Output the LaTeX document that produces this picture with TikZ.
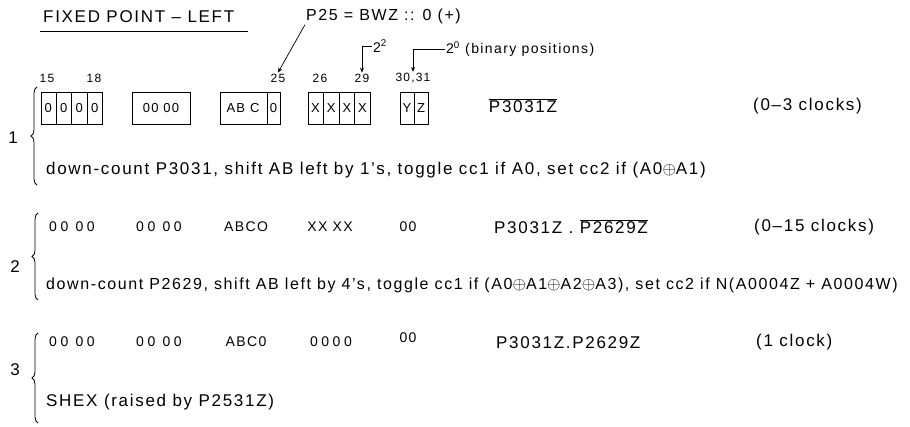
\documentclass[tikz,border=0pt]{standalone}
\usepackage{fontspec}
\setmainfont{Liberation Sans}[LetterSpace=10]
\usetikzlibrary{calc,positioning,decorations.pathreplacing,arrows.meta}

\begin{document}
\begin{tikzpicture}[x=1pt,y=-1pt,
    hand/.style={font=\fontsize{17}{20}\selectfont, inner sep=1pt},
    bitlbl/.style={font=\fontsize{12}{14}\selectfont, inner sep=1pt},
    regbox/.style={draw, line width=0.8pt, minimum height=32pt, inner sep=0pt},
    cell/.style={font=\fontsize{13}{15}\selectfont, inner sep=0pt},
    digits/.style={font=\fontsize{14}{16}\selectfont\addfontfeature{LetterSpace=25}, inner sep=0pt},
    lbrace/.style={decorate, decoration={brace, amplitude=6pt}, line width=0.8pt},
    tip/.style={-{Stealth[length=5pt,width=4pt]}, line width=0.7pt}]
  \useasboundingbox (0,0) rectangle (910,426);

  % Title
  \node[hand, anchor=west] (title) at (42,17) {FIXED POINT -- LEFT};
  \draw[line width=0.8pt] (40,31) -- (248,31);

  % Notes on top
  \node[hand, anchor=west, font=\fontsize{16}{19}\selectfont] (p25) at (305,16) {P25 = BWZ :: 0 (+)};
  \node[hand, anchor=west, font=\fontsize{14}{16}\selectfont] (b22) at (372,46) {2\textsuperscript{2}};
  \node[hand, anchor=west, font=\fontsize{14}{16}\selectfont] (b20) at (445,49) {2\textsuperscript{0} (binary positions)};

  % Bit positions
  \node[bitlbl] (n15) at (47,78) {15};
  \node[bitlbl] (n18) at (94,78) {18};
  \node[bitlbl] (n25) at (278,78) {25};
  \node[bitlbl] (n26) at (320,78) {26};
  \node[bitlbl] (n29) at (362,78) {29};
  \node[bitlbl] (n3031) at (413,78) {30,31};

  \draw[tip] (p25.south west) -- (n25.north);
  \draw[tip] (b22.west) -| (n29.north);
  \draw[tip] (b20.west) -| (n3031.north);

  % Step 1: register boxes
  \node[regbox, minimum width=61pt] (reg1) at (71.5,108) {};
  \foreach \i in {1,2,3}
    \draw[line width=0.8pt] ($(reg1.north west)!\i/4!(reg1.north east)$) -- ($(reg1.south west)!\i/4!(reg1.south east)$);
  \foreach \i in {1,...,4}
    \node[cell] (a\i) at ($(reg1.west)!{(\i-0.5)/4}!(reg1.east)$) {0};

  \node[regbox, minimum width=58pt, cell] (reg2) at (161,108) {00 00};

  \node[regbox, minimum width=60pt] (reg3) at (250,108) {};
  \draw[line width=0.8pt] (267,92) -- (267,124);
  \node[cell] (abc) at (243,108) {AB C};
  \node[cell] (abz) at (273.5,108) {0};

  \node[regbox, minimum width=62pt] (reg4) at (339,108) {};
  \foreach \i in {1,2,3}
    \draw[line width=0.8pt] ($(reg4.north west)!\i/4!(reg4.north east)$) -- ($(reg4.south west)!\i/4!(reg4.south east)$);
  \foreach \i in {1,...,4}
    \node[cell] (x\i) at ($(reg4.west)!{(\i-0.5)/4}!(reg4.east)$) {X};

  \node[regbox, minimum width=28pt] (reg5) at (414,108) {};
  \draw[line width=0.8pt] (reg5.north) -- (reg5.south);
  \node[cell] (yy) at (407,108) {Y};
  \node[cell] (zz) at (421,108) {Z};

  \node[hand] (cond1) at (523,106) {$\overline{\mbox{P3031Z}}$};
  \node[hand, anchor=west] (clk1) at (752,106) {(0--3 clocks)};
  \node[hand, anchor=west] (line1) at (45,170) {down-count P3031, shift AB left by 1's, toggle cc1 if A0, set cc2 if (A0$\oplus$A1)};
  \draw[lbrace] (37,185) -- (37,87);
  \node[hand] (s1) at (13,138) {1};

  % Step 2
  \node[digits] (r2a) at (72,227) {00 00};
  \node[digits] (r2b) at (159,227) {00 00};
  \node[cell, font=\fontsize{14}{16}\selectfont] (r2c) at (246,227) {ABCO};
  \node[cell, font=\fontsize{14}{16}\selectfont] (r2d) at (330,227) {XX XX};
  \node[cell, font=\fontsize{14}{16}\selectfont] (r2e) at (408,227) {00};
  \node[hand, anchor=west] (cond2) at (493,227) {P3031Z . $\overline{\mbox{P2629Z}}$};
  \node[hand, anchor=west] (clk2) at (753,227) {(0--15 clocks)};
  \node[hand, anchor=west, font=\fontsize{16}{19}\selectfont] (line2) at (45,285) {down-count P2629, shift AB left by 4's, toggle cc1 if (A0$\oplus$A1$\oplus$A2$\oplus$A3), set cc2 if N(A0004Z + A0004W)};
  \draw[lbrace] (38,300) -- (38,213);
  \node[hand] (s2) at (15,267) {2};

  % Step 3
  \node[digits] (r3a) at (72,342) {00 00};
  \node[digits] (r3b) at (159,342) {00 00};
  \node[cell, font=\fontsize{14}{16}\selectfont] (r3c) at (246,342) {ABC0};
  \node[digits] (r3d) at (331,342) {0000};
  \node[cell, font=\fontsize{14}{16}\selectfont] (r3e) at (408,338) {00};
  \node[hand, anchor=west] (cond3) at (495,343) {P3031Z.P2629Z};
  \node[hand, anchor=west] (clk3) at (755,342) {(1 clock)};
  \node[hand, anchor=west] (line3) at (45,402) {SHEX (raised by P2531Z)};
  \draw[lbrace] (38,423) -- (38,333);
  \node[hand] (s3) at (15,370) {3};
\end{tikzpicture}
\end{document}
